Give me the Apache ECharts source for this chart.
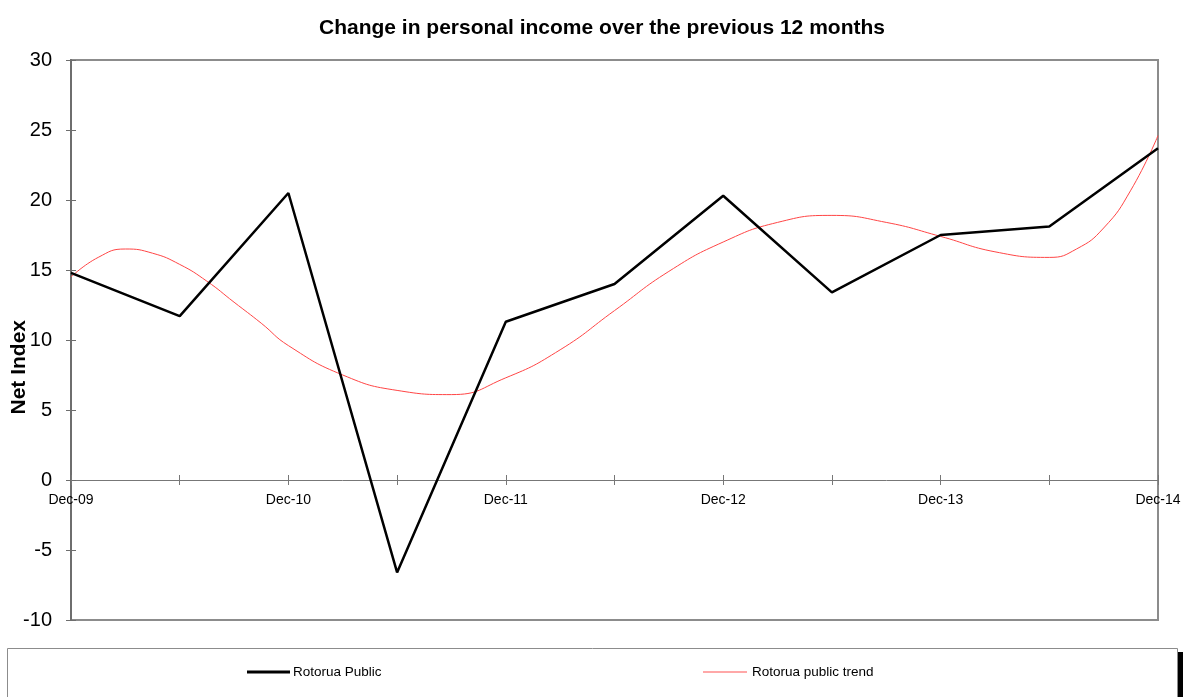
<!DOCTYPE html>
<html>
<head>
<meta charset="utf-8">
<script src="https://cdn.jsdelivr.net/npm/echarts@6/dist/echarts.min.js"></script>
<style>
  html, body { margin: 0; padding: 0; background: #fff; }
  #chart { width: 1184px; height: 697px; }
</style>
</head>
<body>
<div id="chart"></div>
<script>
// half-year steps from Dec-09 (0) to Dec-14 (10)
var xLabels = ['Dec-09', 'Dec-10', 'Dec-11', 'Dec-12', 'Dec-13', 'Dec-14'];
var publicX = [0, 1, 2, 3, 4, 5, 6, 7, 8, 9, 10];
var publicY = [14.8, 11.7, 20.5, -6.6, 11.3, 14.0, 20.3, 13.4, 17.5, 18.1, 23.7];
var trendX = [0, 0.25, 0.5, 0.75, 1, 1.25, 1.5, 1.75, 2, 2.5, 3, 3.5, 4, 4.5, 5, 5.5, 6, 6.5, 7, 7.5, 8, 8.5, 9, 9.25, 9.5, 9.75, 10];
var trendY = [14.5, 15.9, 16.5, 16.2, 15.4, 14.2, 12.7, 11.2, 9.6, 7.5, 6.4, 6.1, 7.3, 9.3, 12.1, 14.9, 17.0, 18.4, 18.9, 18.4, 17.4, 16.3, 15.9, 16.5, 18.0, 20.7, 24.6];
var yTicks = [-10, 30, 5];

var chart = echarts.init(document.getElementById('chart'));

function pairs(xs, ys) {
    return xs.map(function (x, i) { return [x, ys[i]]; });
}

var sans = '"Liberation Sans", Arial, sans-serif';
// the x axis sits on the zero line: 140px above the grid bottom
var zeroOffset = -140;

var option = {
    animation: false,
    title: {
        text: 'Change in personal income over the previous 12 months',
        left: 314,
        top: 13,
        textStyle: {
            fontFamily: sans,
            fontWeight: 'bold',
            fontSize: 21,
            color: '#000'
        }
    },
    grid: {
        left: 71,
        right: 26,
        top: 60,
        bottom: 77,
        show: true,
        borderColor: '#8c8c8c',
        borderWidth: 2
    },
    legend: [
        {
            left: 247,
            top: 665,
            padding: 0,
            icon: 'rect',
            itemWidth: 43,
            itemHeight: 3,
            itemGap: 4,
            textStyle: { fontFamily: sans, fontSize: 13.5, color: '#000', padding: [0, 0, 0, -2] },
            data: [{ name: 'Rotorua Public', itemStyle: { color: '#000' } }]
        },
        {
            left: 703,
            top: 665,
            padding: 0,
            icon: 'rect',
            itemWidth: 44,
            itemHeight: 2,
            itemGap: 4,
            textStyle: { fontFamily: sans, fontSize: 13.5, color: '#000' },
            data: [{ name: 'Rotorua public trend', itemStyle: { color: '#ffa8a8' } }]
        }
    ],
    xAxis: [
        {
            type: 'value',
            min: 0,
            max: 10,
            interval: 1,
            offset: zeroOffset,
            axisLine: { onZero: false, lineStyle: { color: '#777', width: 1 } },
            axisTick: { show: true, length: 5, lineStyle: { color: '#777' } },
            splitLine: { show: false },
            axisLabel: {
                margin: 13,
                fontFamily: sans,
                fontSize: 14,
                color: '#000',
                formatter: function (v) {
                    return v % 2 === 0 ? xLabels[v / 2] : '';
                }
            }
        },
        {
            type: 'value',
            position: 'bottom',
            min: 0,
            max: 10,
            interval: 1,
            offset: zeroOffset,
            axisLine: { onZero: false, show: false },
            axisTick: { show: true, inside: true, length: 5, lineStyle: { color: '#777' } },
            splitLine: { show: false },
            axisLabel: { show: false }
        }
    ],
    yAxis: [
        {
            type: 'value',
            min: yTicks[0],
            max: yTicks[1],
            interval: yTicks[2],
            axisLine: { show: true, lineStyle: { color: '#6e6e6e', width: 2 } },
            axisTick: { show: true, length: 5, lineStyle: { color: '#6e6e6e' } },
            splitLine: { show: false },
            axisLabel: {
                margin: 19,
                fontFamily: sans,
                fontSize: 20,
                color: '#000'
            }
        },
        {
            type: 'value',
            position: 'left',
            min: yTicks[0],
            max: yTicks[1],
            interval: yTicks[2],
            axisLine: { show: false },
            axisTick: { show: true, inside: true, length: 5, lineStyle: { color: '#6e6e6e' } },
            splitLine: { show: false },
            axisLabel: { show: false }
        }
    ],
    graphic: [
        {
            type: 'text',
            left: 9,
            top: 320,
            rotation: Math.PI / 2,
            style: {
                text: 'Net Index',
                fontFamily: sans,
                fontWeight: 'bold',
                fontSize: 21,
                fill: '#000'
            }
        },
        {
            type: 'rect',
            shape: { x: 1177, y: 652, width: 6, height: 60 },
            style: { fill: '#000' }
        },
        {
            type: 'rect',
            shape: { x: 7.5, y: 648.5, width: 1170, height: 60 },
            style: { fill: '#fff', stroke: '#8c8c8c', lineWidth: 1 }
        }
    ],
    series: [
        {
            name: 'Rotorua Public',
            type: 'line',
            data: pairs(publicX, publicY),
            symbol: 'none',
            lineStyle: { color: '#000', width: 2.5 },
            itemStyle: { color: '#000' },
            z: 3
        },
        {
            name: 'Rotorua public trend',
            type: 'line',
            data: pairs(trendX, trendY),
            smooth: true,
            symbol: 'none',
            lineStyle: { color: '#ff4545', width: 1 },
            itemStyle: { color: '#ff4545' },
            z: 2
        }
    ]
};

chart.setOption(option);
</script>
</body>
</html>
